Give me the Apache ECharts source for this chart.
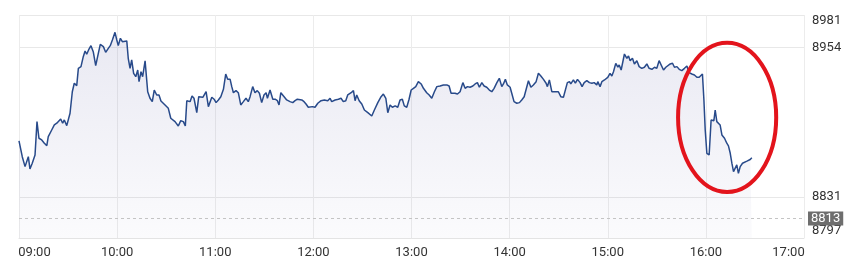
<!DOCTYPE html>
<html>
<head>
<meta charset="utf-8">
<script src="https://cdn.jsdelivr.net/npm/echarts@6/dist/echarts.min.js"></script>
<style>
html,body{margin:0;padding:0;background:#fff;}
#chart{width:854px;height:271px;}
</style>
</head>
<body>
<div id="chart"></div>
<script>
// minutes after 09:00
const times = [
  0,2.0,3.7,4.7,5.7,6.7,8.1,9.8,11.0,12.2,
  13.9,15.5,17.0,17.9,20.0,21.6,23.1,24.0,25.5,26.7,
  27.7,29.2,30.2,31.2,32.6,33.8,35.3,36.3,37.9,39.3,
  40.4,41.4,42.8,44.0,45.4,46.9,48.5,49.7,51.6,53.0,
  54.6,55.8,57.1,58.7,59.8,60.7,62.0,63.2,64.4,65.9,
  66.8,67.9,68.9,70.1,71.4,72.6,73.4,74.6,75.6,77.1,
  78.7,80.1,81.5,82.7,84.2,85.6,86.8,89.3,91.3,92.8,
  94.0,95.4,97.4,98.9,100.5,101.7,102.6,103.8,104.6,105.8,
  107.0,108.7,109.9,111.1,112.4,114.4,115.8,117.9,119.3,120.5,
  121.9,123.4,125.0,126.4,127.6,129.1,130.1,131.1,132.7,134.1,
  135.6,137.2,138.8,140.2,141.3,142.9,144.3,145.7,147.0,148.4,
  149.8,151.1,151.9,153.5,155.2,156.6,158.0,159.0,160.1,162.1,
  163.7,165.7,167.4,168.8,170.2,171.4,172.9,174.3,175.5,176.9,
  178.0,179.4,181.0,182.7,184.7,186.7,188.8,190.2,191.2,193.3,
  195.3,196.9,198.3,199.8,201.0,203.1,204.5,205.5,206.5,208.0,
  209.6,211.2,213.3,215.7,217.3,219.4,221.4,222.8,224.3,225.5,
  226.9,228.3,230.0,231.6,233.0,234.4,235.6,237.1,238.5,239.8,
  241.2,242.6,244.2,245.9,247.3,249.3,250.8,252.4,254.0,255.5,
  257.5,259.5,261.6,263.0,264.2,265.2,266.6,268.1,269.7,271.4,
  272.8,274.2,275.8,277.5,278.9,280.3,281.5,283.0,284.4,286.0,
  287.6,289.1,290.5,292.2,293.7,295.2,296.2,297.4,298.6,300.3,
  301.3,302.7,304.4,306.0,307.4,308.9,310.1,311.5,313.0,314.5,
  316.2,317.6,319.1,320.7,322.3,323.1,324.3,325.8,327.8,329.8,
  331.3,332.9,333.9,335.3,336.6,337.4,339.0,340.2,341.5,343.1,
  344.3,345.6,347.2,348.8,350.3,351.7,353.3,353.9,355.3,356.4,
  358.0,360.0,361.4,362.5,363.5,364.9,366.2,367.0,368.2,369.0,
  370.2,371.7,372.7,373.7,375.1,376.3,377.8,379.2,380.8,382.4,
  383.9,385.3,387.0,388.6,390.0,391.4,392.6,394.1,395.5,396.7,
  398.2,399.6,400.8,402.3,403.7,405.3,406.9,408.4,409.8,411.4,
  413.0,414.5,415.9,417.1,417.9,418.8,419.6,420.6,422.0,423.2,
  424.0,424.9,425.7,426.7,427.7,428.7,429.8,431.4,432.8,433.8,
  434.9,435.9,436.9,437.9,438.9,439.9,441.0,442.4,443.6,445.1,
  446.0,447.1,448.1
];
const prices = [
  8877.1,8864.1,8855.9,8855.1,8864.1,8854.0,8858.7,8865.5,8893.0,8879.3,
  8877.9,8875.2,8873.2,8880.6,8886.1,8890.3,8891.7,8893.0,8895.2,8891.7,
  8894.4,8889.7,8890.3,8899.9,8917.7,8924.7,8922.7,8937.0,8938.4,8946.6,
  8951.3,8948.6,8952.9,8955.7,8950.7,8939.2,8949.4,8956.8,8954.9,8950.2,
  8953.5,8955.7,8960.4,8966.7,8960.4,8955.7,8961.8,8959.0,8960.4,8959.6,
  8945.3,8937.0,8943.9,8932.9,8930.1,8935.6,8926.0,8934.2,8930.1,8943.1,
  8917.7,8912.3,8909.5,8919.1,8915.0,8915.0,8910.1,8906.8,8904.0,8895.8,
  8894.4,8893.0,8889.4,8893.8,8893.0,8889.4,8910.3,8910.9,8909.5,8914.2,
  8912.3,8900.4,8913.6,8915.0,8913.1,8917.7,8905.4,8913.1,8911.5,8908.7,
  8910.9,8913.6,8919.7,8932.3,8927.9,8927.9,8921.9,8916.9,8918.6,8916.9,
  8906.8,8909.5,8912.3,8909.5,8913.6,8921.9,8916.9,8918.6,8916.4,8908.7,
  8915.0,8916.9,8912.3,8919.1,8911.5,8911.5,8910.3,8906.8,8916.9,8913.6,
  8910.9,8909.5,8908.7,8910.3,8911.5,8913.1,8910.9,8909.5,8907.6,8904.9,
  8906.0,8905.4,8904.9,8908.2,8910.3,8910.9,8910.3,8912.3,8909.5,8910.9,
  8911.5,8912.3,8909.5,8910.3,8915.0,8916.9,8918.6,8910.3,8915.0,8910.3,
  8907.6,8902.6,8900.4,8897.7,8902.6,8908.7,8913.6,8915.8,8912.3,8900.4,
  8906.8,8904.9,8906.0,8904.9,8910.9,8911.5,8906.0,8904.9,8911.5,8919.1,
  8920.5,8921.9,8926.0,8924.1,8920.5,8916.9,8915.0,8912.3,8917.7,8921.9,
  8922.4,8923.3,8923.3,8922.4,8916.4,8917.7,8916.4,8915.8,8917.7,8925.2,
  8920.5,8921.9,8921.4,8922.4,8924.1,8925.2,8921.4,8925.2,8922.4,8921.4,
  8919.1,8917.7,8920.5,8925.2,8928.8,8921.9,8924.1,8927.9,8923.3,8921.4,
  8916.4,8909.5,8908.2,8908.7,8910.9,8913.6,8913.1,8926.8,8921.4,8923.3,
  8926.0,8932.9,8930.7,8927.9,8924.7,8921.9,8927.4,8917.7,8917.7,8917.7,
  8913.6,8913.1,8913.6,8925.2,8926.0,8924.1,8927.4,8924.7,8927.9,8925.2,
  8921.9,8925.2,8926.8,8925.2,8924.7,8925.2,8923.3,8926.0,8921.9,8926.0,
  8927.4,8929.6,8932.9,8930.7,8934.2,8941.1,8937.9,8939.8,8935.6,8934.2,
  8948.8,8945.3,8947.2,8943.3,8945.3,8940.6,8943.3,8938.4,8937.0,8937.9,
  8940.6,8937.0,8936.2,8937.9,8937.0,8943.3,8944.5,8935.6,8937.9,8937.0,
  8940.6,8941.2,8937.9,8938.4,8936.2,8935.1,8937.0,8938.9,8933.4,8932.3,
  8931.5,8929.6,8929.6,8929.6,8932.3,8910.9,8886.1,8866.9,8865.5,8894.4,
  8894.9,8893.8,8902.6,8893.0,8894.4,8890.3,8882.0,8879.3,8875.2,8873.0,
  8866.9,8858.7,8851.8,8851.8,8857.3,8850.4,8855.9,8858.7,8858.1,8860.4,
  8859.6,8861.8,8863.2
];
const yTicks = [8797, 8831, 8954, 8981];
const refLevel = 8813;
const xMin = 0, xMax = 480, xStep = 60;
// annotation ellipse bounds (data units)
const ringTimes = [403, 463];
const ringPrices = [8835, 8958];

const seriesData = times.map((t, i) => [t, prices[i]]);
const fmtTime = v => {
  const h = 9 + Math.floor(v / 60), m = Math.round(v % 60);
  return (h < 10 ? '0' : '') + h + ':' + (m < 10 ? '0' : '') + m;
};

const chart = echarts.init(document.getElementById('chart'), null, {renderer: 'canvas'});
chart.setOption({
  animation: false,
  backgroundColor: '#fff',
  grid: {left: 19, right: 50, top: 15, bottom: 33, containLabel: false},
  xAxis: {
    type: 'value', min: xMin, max: xMax, interval: xStep,
    axisLine: {show: true, lineStyle: {color: '#e4e4e4'}},
    axisTick: {show: false},
    splitLine: {show: true, lineStyle: {color: '#ececec'}},
    axisLabel: {
      color: '#333', fontSize: 13, fontFamily: 'Roboto', margin: 8,
      formatter: v => v === xMin ? '{l|' + fmtTime(v) + '}' : (v === xMax ? '{r|' + fmtTime(v) + '}' : fmtTime(v)),
      rich: {
        l: {fontSize: 13, fontFamily: 'Roboto', color: '#333', padding: [0, 0, 0, 31]},
        r: {fontSize: 13, fontFamily: 'Roboto', color: '#333', padding: [0, 31, 0, 0]}
      }
    }
  },
  yAxis: {
    type: 'value', position: 'right', min: yTicks[0], max: yTicks[yTicks.length - 1],
    axisLine: {show: false},
    axisTick: {show: false, customValues: yTicks},
    splitLine: {show: true, lineStyle: {color: '#e8e8e8'}},
    axisLabel: {
      customValues: yTicks,
      color: '#333', fontSize: 13, fontFamily: 'Roboto', margin: 8,
      formatter: v => v === yTicks[yTicks.length - 1] ? '{t|' + v + '}' : (v === yTicks[0] ? '{b|' + v + '}' : String(v)),
      rich: {
        t: {fontSize: 13, fontFamily: 'Roboto', color: '#333', padding: [12, 0, 0, 0]},
        b: {fontSize: 13, fontFamily: 'Roboto', color: '#333', padding: [0, 0, 14, 0]}
      }
    }
  },
  series: [{
    type: 'line',
    data: seriesData,
    showSymbol: false,
    symbol: 'none',
    lineStyle: {color: '#284a8a', width: 1.5},
    areaStyle: {
      origin: 'start',
      color: new echarts.graphic.LinearGradient(0, 0, 0, 1, [
        {offset: 0, color: 'rgba(70,70,150,0.17)'},
        {offset: 1, color: 'rgba(70,70,150,0.03)'}
      ])
    },
    markLine: {
      silent: true,
      symbol: ['none', 'none'],
      lineStyle: {color: '#c4c4c4', type: [3, 3], width: 1},
      label: {
        show: true, position: 'end', distance: 4,
        formatter: String(refLevel),
        color: '#fff', backgroundColor: '#6e6e6e',
        fontSize: 13, fontFamily: 'Roboto', padding: [1, 3, 0, 3]
      },
      data: [{yAxis: refLevel}]
    }
  }]
});

const p1 = chart.convertToPixel({gridIndex: 0}, [ringTimes[0], ringPrices[1]]);
const p2 = chart.convertToPixel({gridIndex: 0}, [ringTimes[1], ringPrices[0]]);
chart.setOption({
  graphic: [{
    type: 'ellipse', z: 100,
    shape: {cx: (p1[0] + p2[0]) / 2, cy: (p1[1] + p2[1]) / 2, rx: Math.abs(p2[0] - p1[0]) / 2, ry: Math.abs(p2[1] - p1[1]) / 2},
    style: {fill: 'none', stroke: '#e3141c', lineWidth: 4}
  }]
});
</script>
</body>
</html>
